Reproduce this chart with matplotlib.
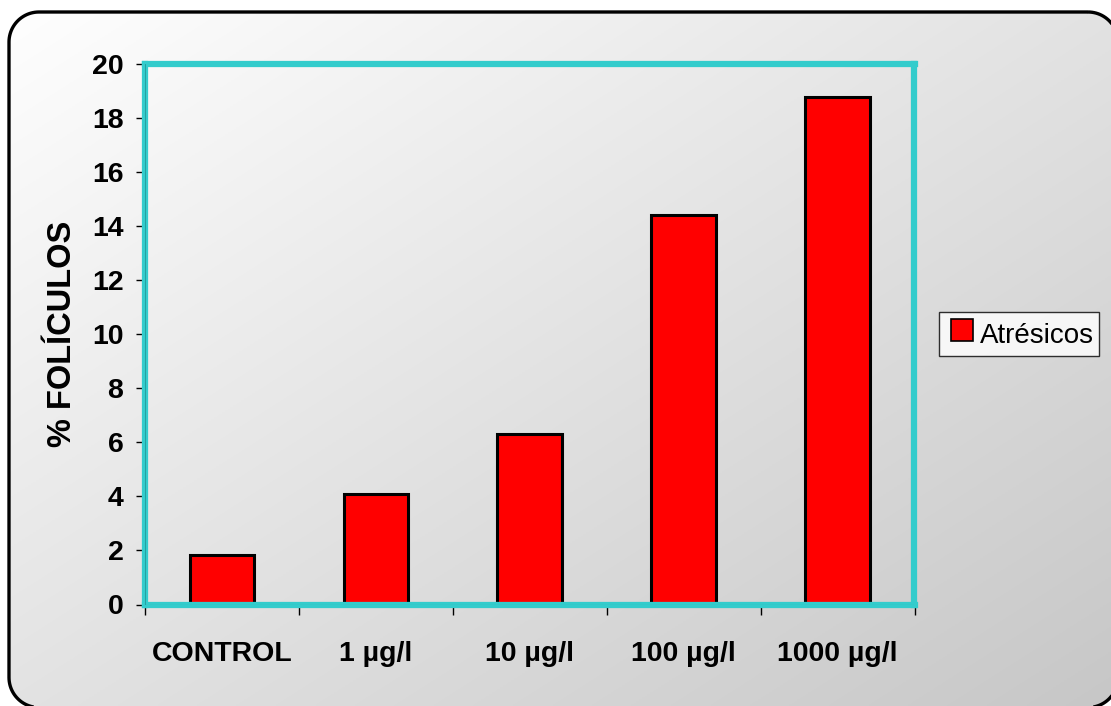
import numpy as np
import matplotlib
matplotlib.use("Agg")
import matplotlib.pyplot as plt
from matplotlib.patches import Polygon
from matplotlib.lines import Line2D
from matplotlib.legend_handler import HandlerLine2D

# Data
categories = ["CONTROL", "1 µg/l", "10 µg/l", "100 µg/l", "1000 µg/l"]
atresicos = [1.83, 4.1, 6.3, 14.4, 18.75]
series_name = "Atrésicos"
y_ticks = list(range(0, 21, 2))

W, H = 1111, 706
fig = plt.figure(figsize=(W / 100, H / 100), dpi=100)
fig.patch.set_facecolor("white")
plt.rcParams["font.family"] = ["Liberation Sans", "DejaVu Sans"]


def rounded_rect(x0, y0, x1, y1, r, n=24):
    """Closed polygon of a rounded rectangle (pixel coords, y downwards)."""
    pts = []
    corners = [(x1 - r, y0 + r, -90, 0), (x1 - r, y1 - r, 0, 90),
               (x0 + r, y1 - r, 90, 180), (x0 + r, y0 + r, 180, 270)]
    for cx, cy, a0, a1 in corners:
        a = np.radians(np.linspace(a0, a1, n))
        pts.extend(zip(cx + r * np.cos(a), cy + r * np.sin(a)))
    return np.array(pts)


# Background: rounded frame filled with a diagonal white-to-gray gradient
bg = fig.add_axes([0, 0, 1, 1])
bg.set_xlim(0, W)
bg.set_ylim(H, 0)
bg.axis("off")
xx, yy = np.meshgrid(np.linspace(0, 1, 400), np.linspace(0, 1, 300))
t = (xx + yy) / 2
shade = 1.0 - 0.22 * t
img = np.dstack([shade, shade, shade])
im = bg.imshow(img, extent=[0, W, H, 0], aspect="auto", zorder=0)
frame = Polygon(rounded_rect(9, 12, 1118, 707.5, 30), closed=True,
                linewidth=2.4, edgecolor="black", facecolor="none", zorder=2)
bg.add_patch(frame)
im.set_clip_path(frame)

# Plot area
x0, x1, ytop, ybot = 145, 914.5, 63.5, 604.5
ax = fig.add_axes([x0 / W, 1 - ybot / H, (x1 - x0) / W, (ybot - ytop) / H])
ax.set_facecolor("none")

xpos = np.arange(len(categories))
ax.bar(xpos, atresicos, width=0.42, color="#FF0000", edgecolor="black",
       linewidth=2.2, zorder=3)

ax.set_xlim(-0.5, len(categories) - 0.5)
ax.set_ylim(0, 20)

cyan = "#33CCCC"
for s in ax.spines.values():
    s.set_color(cyan)
    s.set_linewidth(4.5)
    s.set_zorder(4)
ax.axhline(0, color="#229999", lw=0.8, zorder=5)
ax.axvline(-0.5, color="#229999", lw=0.6, zorder=5)

ax.set_yticks(y_ticks)
ax.tick_params(axis="y", direction="out", length=6.5, width=1.0, color="black",
               pad=9, labelsize=20.5)
for lab in ax.get_yticklabels():
    lab.set_fontweight("bold")

ax.set_xticks(xpos)
ax.set_xticklabels(categories, fontsize=20.5, fontweight="bold")
ax.tick_params(axis="x", which="major", length=0, pad=26)
ax.set_xticks(np.arange(-0.5, len(categories), 1.0), minor=True)
ax.tick_params(axis="x", which="minor", direction="out", length=7.5,
               width=1.0, color="black")

ax.set_ylabel("% FOLÍCULOS", fontsize=23.5, fontweight="bold", labelpad=10)

handle = Line2D([], [], linestyle="none", marker="s", markersize=15.5,
                markerfacecolor="#FF0000", markeredgecolor="black",
                markeredgewidth=1.2)
leg = fig.legend([handle], [series_name], loc="center left",
                 bbox_to_anchor=(939 / W, 1 - 334 / H), fontsize=20,
                 frameon=True, fancybox=False, handlelength=1.22,
                 handleheight=1.45, handletextpad=0.05, borderpad=0.2,
                 borderaxespad=0,
                 handler_map={Line2D: HandlerLine2D(ypad=0.3)})
leg.get_frame().set_edgecolor("black")
leg.get_frame().set_linewidth(1.0)
leg.get_frame().set_facecolor("white")

fig.savefig("out.png", dpi=100)
